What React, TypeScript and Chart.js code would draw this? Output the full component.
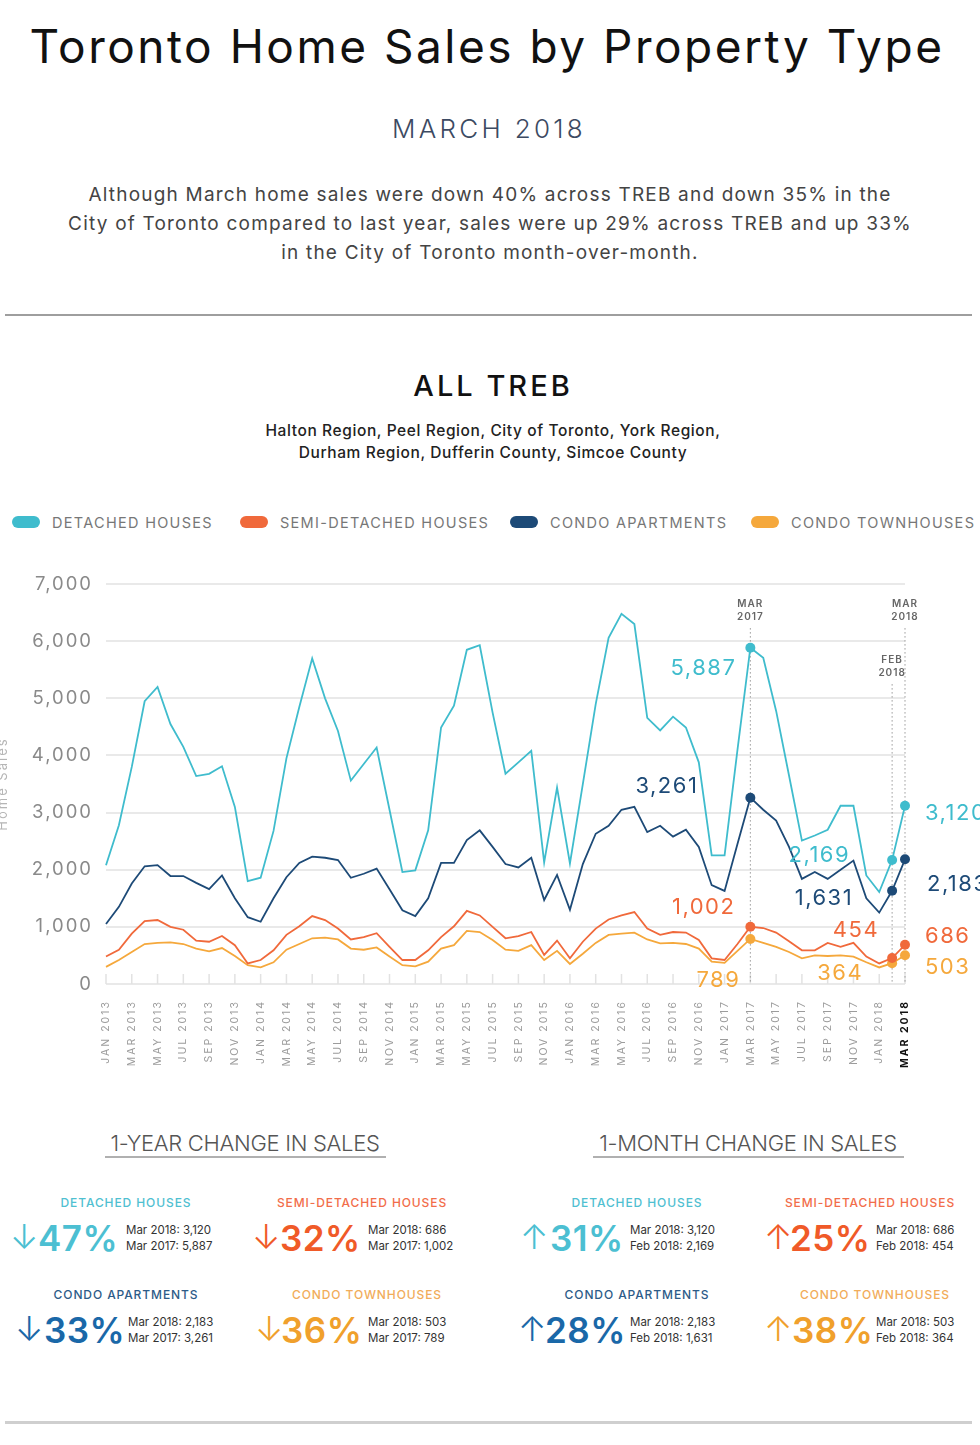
import React, { useEffect, useRef } from "react";
import { Chart, registerables } from "chart.js";

Chart.register(...registerables);

const FONT = "Inter, 'DejaVu Sans', sans-serif";

const MONTH_LABELS = [
  "JAN 2013", "FEB 2013", "MAR 2013", "APR 2013", "MAY 2013", "JUN 2013", "JUL 2013", "AUG 2013", "SEP 2013", "OCT 2013", "NOV 2013", "DEC 2013",
  "JAN 2014", "FEB 2014", "MAR 2014", "APR 2014", "MAY 2014", "JUN 2014", "JUL 2014", "AUG 2014", "SEP 2014", "OCT 2014", "NOV 2014", "DEC 2014",
  "JAN 2015", "FEB 2015", "MAR 2015", "APR 2015", "MAY 2015", "JUN 2015", "JUL 2015", "AUG 2015", "SEP 2015", "OCT 2015", "NOV 2015", "DEC 2015",
  "JAN 2016", "FEB 2016", "MAR 2016", "APR 2016", "MAY 2016", "JUN 2016", "JUL 2016", "AUG 2016", "SEP 2016", "OCT 2016", "NOV 2016", "DEC 2016",
  "JAN 2017", "FEB 2017", "MAR 2017", "APR 2017", "MAY 2017", "JUN 2017", "JUL 2017", "AUG 2017", "SEP 2017", "OCT 2017", "NOV 2017", "DEC 2017",
  "JAN 2018", "FEB 2018", "MAR 2018",
];

const DETACHED = [
  2080, 2780, 3800, 4950, 5200, 4550, 4150, 3640, 3680, 3810, 3100, 1800,
  1860, 2680, 3950, 4850, 5700, 5000, 4430, 3560, 3850, 4140, 3050, 1960,
  1990, 2690, 4490, 4870, 5850, 5930, 4750, 3680, 3880, 4080, 2130, 3440,
  2110, 3500, 4900, 6060, 6480, 6300, 4660, 4440, 4680, 4490, 3880, 2250,
  2250, 4100, 5887, 5710, 4780, 3650, 2510, 2600, 2700, 3120, 3120, 1900,
  1610, 2169, 3120,
];

const SEMI_DETACHED = [
  480, 600, 880, 1100, 1120, 1000, 950, 760, 740, 840, 680, 360,
  420, 590, 860, 1010, 1190, 1120, 970, 780, 820, 890, 650, 420,
  420, 590, 820, 1010, 1280, 1200, 1000, 800, 840, 910, 510, 760,
  450, 740, 970, 1130, 1200, 1260, 970, 860, 910, 900, 770, 450,
  420, 700, 1002, 980, 900, 750, 590, 590, 720, 650, 720, 480,
  360, 454, 686,
];

const CONDO_APTS = [
  1050, 1350, 1760, 2060, 2080, 1890, 1890, 1770, 1660, 1900, 1500, 1170,
  1090, 1500, 1870, 2120, 2230, 2210, 2170, 1860, 1930, 2020, 1660, 1290,
  1190, 1500, 2120, 2120, 2520, 2690, 2400, 2100, 2040, 2210, 1470, 1910,
  1300, 2100, 2630, 2770, 3050, 3100, 2660, 2770, 2580, 2700, 2400, 1730,
  1630, 2450, 3261, 3050, 2860, 2400, 1840, 1960, 1840, 2000, 2160, 1500,
  1250, 1631, 2183,
];

const CONDO_TOWNS = [
  300, 420, 560, 700, 720, 730, 700, 620, 570, 630, 490, 330,
  290, 380, 600, 700, 800, 810, 780, 620, 600, 640, 480, 330,
  310, 390, 620, 680, 930, 910, 770, 600, 580, 680, 420, 580,
  350, 530, 720, 860, 880, 900, 780, 710, 720, 700, 620, 390,
  370, 580, 789, 720, 650, 560, 450, 500, 490, 500, 480, 380,
  290, 364, 503,
];

const SERIES_NAMES = ["DETACHED HOUSES", "SEMI-DETACHED HOUSES", "CONDO APARTMENTS", "CONDO TOWNHOUSES"];
const SERIES_COLORS = ["#3fbccd", "#f0693b", "#1d4a77", "#f5a83c"];
const Y_TICKS = [0, 1000, 2000, 3000, 4000, 5000, 6000, 7000];

// highlighted months (indices into MONTH_LABELS)
const MARKED = [50, 61, 62];
const GUIDES = [
  { index: 50, lines: ["MAR", "2017"], top: 44 },
  { index: 62, lines: ["MAR", "2018"], top: 44 },
  { index: 61, lines: ["FEB", "2018"], top: 100 },
];
// value callouts: series index, month index, offset & alignment
const CALLOUTS = [
  { s: 0, i: 50, dx: -14, dy: 21, align: "right" },
  { s: 2, i: 50, dx: -52, dy: -11, align: "right" },
  { s: 1, i: 50, dx: -15, dy: -19, align: "right" },
  { s: 3, i: 50, dx: -10, dy: 41, align: "right" },
  { s: 0, i: 61, dx: -42, dy: -5, align: "right" },
  { s: 2, i: 61, dx: -39, dy: 8, align: "right" },
  { s: 1, i: 61, dx: -13, dy: -28, align: "right" },
  { s: 3, i: 61, dx: -29, dy: 10, align: "right" },
  { s: 0, i: 62, dx: 20, dy: 8, align: "left" },
  { s: 2, i: 62, dx: 22, dy: 25, align: "left" },
  { s: 1, i: 62, dx: 20, dy: -8, align: "left" },
  { s: 3, i: 62, dx: 20, dy: 12, align: "left" },
];

const YEAR_STATS = [
  { name: "DETACHED HOUSES", pct: "47%", up: false, a: "Mar 2018: 3,120", b: "Mar 2017: 5,887", head: "#4fc0d1", big: "#4cbfd2" },
  { name: "SEMI-DETACHED HOUSES", pct: "32%", up: false, a: "Mar 2018: 686", b: "Mar 2017: 1,002", head: "#f26d4a", big: "#f05a28" },
  { name: "CONDO APARTMENTS", pct: "33%", up: false, a: "Mar 2018: 2,183", b: "Mar 2017: 3,261", head: "#2d5b88", big: "#1a68a8" },
  { name: "CONDO TOWNHOUSES", pct: "36%", up: false, a: "Mar 2018: 503", b: "Mar 2017: 789", head: "#f1ac5a", big: "#f0a02c" },
];
const MONTH_STATS = [
  { name: "DETACHED HOUSES", pct: "31%", up: true, a: "Mar 2018: 3,120", b: "Feb 2018: 2,169", head: "#4fc0d1", big: "#4cbfd2" },
  { name: "SEMI-DETACHED HOUSES", pct: "25%", up: true, a: "Mar 2018: 686", b: "Feb 2018: 454", head: "#f26d4a", big: "#f05a28" },
  { name: "CONDO APARTMENTS", pct: "28%", up: true, a: "Mar 2018: 2,183", b: "Feb 2018: 1,631", head: "#2d5b88", big: "#1a68a8" },
  { name: "CONDO TOWNHOUSES", pct: "38%", up: true, a: "Mar 2018: 503", b: "Feb 2018: 364", head: "#f1ac5a", big: "#f0a02c" },
];

const SERIES = [DETACHED, SEMI_DETACHED, CONDO_APTS, CONDO_TOWNS];

const annotPlugin = {
  id: "annot",
  beforeDraw(chart: any) {
    chart.ctx.letterSpacing = "2px";
  },
  beforeDatasetsDraw(chart: any) {
    const { ctx, chartArea, scales } = chart;
    const x = scales.x;
    ctx.save();
    // small ticks on the baseline every two months
    ctx.strokeStyle = "#e2e2e2";
    ctx.lineWidth = 1.5;
    MONTH_LABELS.forEach((_, i) => {
      if (i % 2 === 0) {
        const px = x.getPixelForValue(i);
        ctx.beginPath();
        ctx.moveTo(px, chartArea.bottom);
        ctx.lineTo(px, chartArea.bottom - 10);
        ctx.stroke();
      }
    });
    // dotted guides
    GUIDES.forEach((g) => {
      const px = x.getPixelForValue(g.index);
      const top = chartArea.top + g.top;
      ctx.strokeStyle = "#9a9a9a";
      ctx.lineWidth = 1;
      ctx.setLineDash([1.5, 2.5]);
      ctx.beginPath();
      ctx.moveTo(px, top);
      ctx.lineTo(px, chartArea.bottom);
      ctx.stroke();
      ctx.setLineDash([]);
      ctx.fillStyle = "#666";
      ctx.font = `600 10px ${FONT}`;
      ctx.letterSpacing = "1px";
      ctx.textAlign = "center";
      ctx.textBaseline = "middle";
      ctx.fillText(g.lines[0], px, top - 24);
      ctx.fillText(g.lines[1], px, top - 11);
    });
    ctx.restore();
  },
  afterDatasetsDraw(chart: any) {
    const { ctx, scales } = chart;
    const x = scales.x;
    const y = scales.y;
    ctx.save();
    ctx.font = `400 22px ${FONT}`;
    ctx.letterSpacing = "1.5px";
    ctx.textBaseline = "middle";
    CALLOUTS.forEach((c) => {
      const v = SERIES[c.s][c.i];
      const px = x.getPixelForValue(c.i);
      const py = y.getPixelForValue(v);
      ctx.fillStyle = SERIES_COLORS[c.s];
      ctx.textAlign = c.align;
      ctx.fillText(v.toLocaleString("en-US"), px + c.dx, py + c.dy);
    });
    ctx.restore();
  },
};

function Txt(props: any) {
  const { x, y, w, align = "center", size, color = "#222", weight = 400, ls = 0, lh, children, family = FONT } = props;
  const lineH = lh || Math.round(size * 1.3);
  const left = align === "center" ? x - w / 2 : align === "right" ? x - w : x;
  return (
    <div
      style={{
        position: "absolute",
        left,
        top: y - lineH / 2,
        width: w,
        textAlign: align,
        fontSize: size,
        lineHeight: `${lineH}px`,
        color,
        fontWeight: weight,
        letterSpacing: ls,
        fontFamily: family,
        whiteSpace: "nowrap",
      }}
    >
      {children}
    </div>
  );
}

function StatBlock(props: any) {
  const { st, hx, hy, ax, px, dx } = props;
  return (
    <>
      <Txt x={hx} y={hy} w={260} size={12} color={st.head} weight={500} ls={0.9}>{st.name}</Txt>
      <Txt x={ax} y={hy + 34} w={30} align="left" size={34} color={st.big} weight={300}>{st.up ? "↑" : "↓"}</Txt>
      <Txt x={px} y={hy + 35} w={100} align="left" size={35} color={st.big} weight={600} ls={0.5}>{st.pct}</Txt>
      <Txt x={dx} y={hy + 27} w={120} align="left" size={11.5} color="#333" lh={16}>{st.a}</Txt>
      <Txt x={dx} y={hy + 43} w={120} align="left" size={11.5} color="#333" lh={16}>{st.b}</Txt>
    </>
  );
}

function LineChart() {
  const ref = useRef<HTMLCanvasElement>(null);
  useEffect(() => {
    if (!ref.current) return;
    const chart = new Chart(ref.current, {
      type: "line",
      data: {
        labels: MONTH_LABELS,
        datasets: SERIES.map((d, k) => ({
          label: SERIES_NAMES[k],
          data: d,
          borderColor: SERIES_COLORS[k],
          backgroundColor: SERIES_COLORS[k],
          borderWidth: 1.8,
          tension: 0,
          pointRadius: (c: any) => (MARKED.includes(c.dataIndex) ? 5 : 0),
          pointHoverRadius: 0,
          pointBorderWidth: 0,
        })),
      },
      options: {
        animation: false,
        responsive: false,
        maintainAspectRatio: false,
        events: [],
        layout: { padding: { top: 23, right: 75, bottom: 0, left: 0 } },
        plugins: { legend: { display: false }, tooltip: { enabled: false } },
        scales: {
          x: {
            type: "category",
            offset: false,
            grid: { display: false, drawTicks: false },
            border: { display: false },
            afterFit: (s: any) => { s.height = 106; },
            ticks: {
              autoSkip: false,
              minRotation: 90,
              maxRotation: 90,
              padding: 16,
              callback: (_v: any, idx: number) => (idx % 2 === 0 ? MONTH_LABELS[idx] : ""),
              color: (c: any) => (c.index === MONTH_LABELS.length - 1 ? "#111" : "#9c9c9c"),
              font: (c: any) => ({ family: FONT, size: 10.5, weight: c.index === MONTH_LABELS.length - 1 ? "bold" : "normal" }),
            },
          },
          y: {
            min: Y_TICKS[0],
            max: Y_TICKS[Y_TICKS.length - 1],
            afterFit: (s: any) => { s.width = 111; },
            afterBuildTicks: (s: any) => { s.ticks = Y_TICKS.map((v) => ({ value: v })); },
            grid: { color: "#e9e9e9", lineWidth: 2, drawTicks: false },
            border: { display: false },
            title: { display: true, text: "Home Sales", color: "#b5b5b5", font: { family: FONT, size: 13 }, padding: 0 },
            ticks: {
              padding: 13,
              color: "#8a8a8a",
              font: { family: FONT, size: 18.5 },
              callback: (v: any) => Number(v).toLocaleString("en-US"),
            },
          },
        },
      },
      plugins: [annotPlugin],
    } as any);
    return () => chart.destroy();
  }, []);
  return <canvas ref={ref} width={985} height={530} style={{ position: "absolute", left: -5, top: 560, width: 985, height: 530 }} />;
}

export default function App() {
  const legendPos = [12, 240, 510, 751];
  return (
    <div style={{ position: "absolute", left: 0, top: 0, width: 980, height: 1445, overflow: "hidden", background: "#fff", fontFamily: FONT }}>
      <Txt x={487} y={46} w={980} size={46} color="#111" weight={400} ls={2.5}>Toronto Home Sales by Property Type</Txt>
      <Txt x={489} y={129} w={400} size={26} color="#3c4a62" weight={300} ls={3.3}>MARCH 2018</Txt>
      <div style={{ position: "absolute", left: 0, top: 180, width: 980, textAlign: "center", fontSize: 19, lineHeight: "29px", letterSpacing: 1.2, color: "#444", fontFamily: FONT, fontWeight: 400, whiteSpace: "nowrap" }}>
        Although March home sales were down 40% across TREB and down 35% in the<br />
        City of Toronto compared to last year, sales were up 29% across TREB and up 33%<br />
        in the City of Toronto month-over-month.
      </div>
      <div style={{ position: "absolute", left: 5, top: 314, width: 967, height: 2, background: "#9e9e9e" }} />
      <Txt x={493} y={386} w={400} size={29} color="#111" weight={500} ls={3}>ALL TREB</Txt>
      <Txt x={493} y={431} w={800} size={15.5} color="#222" weight={500} lh={22} ls={0.6}>Halton Region, Peel Region, City of Toronto, York Region,</Txt>
      <Txt x={493} y={453} w={800} size={15.5} color="#222" weight={500} lh={22} ls={0.6}>Durham Region, Dufferin County, Simcoe County</Txt>
      {SERIES_NAMES.map((n, k) => (
        <React.Fragment key={n}>
          <div style={{ position: "absolute", left: legendPos[k], top: 516, width: 28, height: 12, borderRadius: 6, background: SERIES_COLORS[k] }} />
          <Txt x={legendPos[k] + 40} y={522} w={260} align="left" size={14.5} color="#777" ls={1.3}>{n}</Txt>
        </React.Fragment>
      ))}
      <LineChart />
      <Txt x={245} y={1143} w={400} size={22} color="#555" weight={300} ls={-0.3}>1-YEAR CHANGE IN SALES</Txt>
      <div style={{ position: "absolute", left: 105, top: 1156, width: 281, height: 1.5, background: "#b0b0b0" }} />
      <Txt x={748} y={1143} w={400} size={22} color="#555" weight={300} ls={-0.3}>1-MONTH CHANGE IN SALES</Txt>
      <div style={{ position: "absolute", left: 593, top: 1156, width: 311, height: 1.5, background: "#b0b0b0" }} />

      <StatBlock st={YEAR_STATS[0]} hx={126} hy={1203} ax={10} px={38} dx={126} />
      <StatBlock st={YEAR_STATS[1]} hx={362} hy={1203} ax={252} px={280} dx={368} />
      <StatBlock st={YEAR_STATS[2]} hx={126} hy={1295} ax={15} px={44} dx={128} />
      <StatBlock st={YEAR_STATS[3]} hx={367} hy={1295} ax={255} px={281} dx={368} />

      <StatBlock st={MONTH_STATS[0]} hx={637} hy={1203} ax={520} px={550} dx={630} />
      <StatBlock st={MONTH_STATS[1]} hx={870} hy={1203} ax={764} px={790} dx={876} />
      <StatBlock st={MONTH_STATS[2]} hx={637} hy={1295} ax={518} px={545} dx={630} />
      <StatBlock st={MONTH_STATS[3]} hx={875} hy={1295} ax={764} px={792} dx={876} />

      <div style={{ position: "absolute", left: 5, top: 1421, width: 967, height: 3, background: "#cfcfcf" }} />
    </div>
  );
}
